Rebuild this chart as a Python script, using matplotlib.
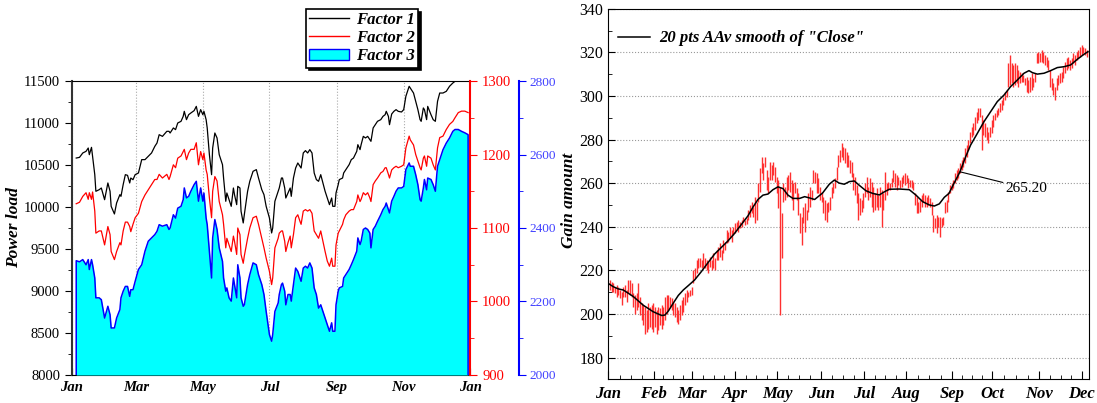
import numpy as np
import matplotlib
matplotlib.use('Agg')
import matplotlib.pyplot as plt
from matplotlib.lines import Line2D
from matplotlib.patches import Patch
from matplotlib.ticker import MultipleLocator

plt.rcParams['font.family'] = ['Liberation Serif', 'DejaVu Serif']

# ---- left panel data (day of year) ----
days = [4, 7, 10, 13, 15, 16, 18, 19, 21, 22, 25, 27, 30, 33, 35, 36, 39, 41, 44, 45,
        47, 49, 51, 53, 54, 56, 58, 61, 64, 67, 70, 73, 76, 78, 80, 83, 87, 89,
        90, 93, 95, 97, 100, 102, 103, 105, 107, 109, 112, 114, 116, 118, 120, 121, 123, 124,
        126, 128, 129, 131, 133, 135, 138, 139, 141, 142, 144, 146, 148, 149, 151, 152, 154, 155,
        157, 158, 161, 163, 166, 169, 171, 174, 176, 178, 181,
        183, 184, 186, 189, 190, 192, 193, 195, 196, 198, 200, 201, 203, 205, 207, 209, 210, 212,
        214, 216, 218, 220, 222, 224, 226, 228, 230, 232, 234, 236, 238, 239, 241, 242, 244, 245,
        248, 249, 251, 254, 256, 258, 261, 262, 264, 265, 267, 269, 271, 273,
        274, 276, 278, 280, 283, 285, 287, 288, 290, 291, 293, 295, 297, 299, 302, 304, 306, 309,
        310, 313, 315, 317, 319, 320, 322, 323, 325, 326, 329, 331, 333, 335, 337, 340, 343, 346,
        349, 351, 354, 357, 360, 363]

factor1 = [10583, 10591, 10643, 10663, 10702, 10623, 10710, 10603, 10385, 10187,
           10206, 10226, 10087, 10286, 10187, 10008, 9917, 10048, 10147, 10127,
           10266, 10385, 10377, 10286, 10345, 10325, 10385, 10405, 10564, 10564,
           10603, 10643, 10722, 10762, 10861, 10841, 10901, 10901,
           10881, 10941, 10921, 11000, 11020, 11079, 11139, 11040, 11099, 11119,
           11147, 11198, 11079, 11159, 11099, 11139, 11040, 10941, 10623, 10385,
           10702, 10881, 10822, 10623, 10504, 10345, 10068, 10167, 10087, 10008,
           10226, 10147, 10028, 10246, 10226, 9949, 9810, 9909, 10187, 10306,
           10425, 10445, 10345, 10206, 10147, 10008, 9869,
           9691, 9750, 10068, 10187, 10226, 10345, 10345, 10226, 10107, 10167,
           10226, 10127, 10345, 10464, 10524, 10484, 10464, 10643, 10671, 10643,
           10683, 10643, 10405, 10326, 10306, 10385, 10286, 10187, 10107, 10028,
           10107, 10008, 10008, 10167, 10266, 10326, 10345, 10405, 10445, 10504,
           10564, 10583, 10663, 10742, 10683, 10742, 10841, 10822, 10841, 10802,
           10782, 10941, 10980, 11020, 11040, 11079, 11099, 11139, 11079, 10980,
           11107, 11139, 11159, 11139, 11131, 11159, 11318, 11437, 11417, 11357,
           11258, 11159, 11040, 11020, 11179, 11159, 11040, 11198, 11099, 11040,
           11020, 11258, 11357, 11357, 11377, 11437, 11476, 11496, 11536, 11575,
           11595, 11615]

factor2 = [1133, 1135, 1143, 1148, 1139, 1148, 1139, 1149, 1123, 1093,
           1096, 1096, 1077, 1102, 1091, 1068, 1057, 1068, 1080, 1077,
           1096, 1108, 1108, 1102, 1095, 1105, 1114, 1120, 1136, 1145,
           1152, 1159, 1166, 1166, 1173, 1168, 1173, 1166,
           1170, 1186, 1182, 1195, 1198, 1204, 1207, 1193, 1202, 1207,
           1207, 1216, 1186, 1204, 1193, 1202, 1179, 1173, 1141, 1114,
           1150, 1170, 1164, 1136, 1118, 1105, 1073, 1086, 1077, 1068,
           1089, 1082, 1064, 1100, 1091, 1064, 1052, 1062, 1086, 1100,
           1114, 1116, 1105, 1086, 1073, 1059, 1041,
           1023, 1032, 1073, 1086, 1093, 1096, 1096, 1082, 1068, 1080,
           1089, 1073, 1091, 1114, 1118, 1109, 1105, 1123, 1125, 1123,
           1125, 1120, 1096, 1091, 1086, 1096, 1082, 1068, 1055, 1048,
           1059, 1048, 1048, 1077, 1093, 1096, 1105, 1111, 1118, 1123,
           1125, 1125, 1136, 1145, 1136, 1139, 1148, 1145, 1148, 1141,
           1136, 1159, 1164, 1168, 1175, 1177, 1182, 1182, 1173, 1168,
           1179, 1182, 1184, 1182, 1184, 1186, 1209, 1225, 1220, 1213,
           1200, 1191, 1182, 1179, 1195, 1198, 1184, 1198, 1195, 1186,
           1179, 1209, 1223, 1225, 1234, 1241, 1245, 1250, 1257, 1259,
           1259, 1257]

factor3 = [2311, 2308, 2314, 2300, 2314, 2287, 2314, 2300, 2264, 2210,
           2210, 2205, 2155, 2187, 2164, 2128, 2128, 2155, 2178, 2210,
           2228, 2241, 2241, 2214, 2232, 2232, 2255, 2287, 2300, 2337,
           2364, 2373, 2382, 2391, 2409, 2405, 2409, 2396,
           2400, 2436, 2427, 2454, 2459, 2477, 2509, 2482, 2486, 2500,
           2518, 2527, 2473, 2509, 2473, 2495, 2427, 2409, 2337, 2264,
           2373, 2423, 2396, 2346, 2309, 2264, 2228, 2237, 2210, 2201,
           2264, 2246, 2210, 2300, 2264, 2210, 2187, 2191, 2246, 2273,
           2305, 2300, 2273, 2246, 2219, 2173, 2110,
           2092, 2110, 2173, 2196, 2219, 2246, 2250, 2228, 2191, 2219,
           2219, 2201, 2246, 2291, 2282, 2264, 2255, 2291, 2296, 2291,
           2305, 2291, 2237, 2219, 2182, 2191, 2173, 2155, 2137, 2119,
           2142, 2119, 2119, 2191, 2228, 2237, 2241, 2264, 2273, 2287,
           2300, 2314, 2337, 2373, 2355, 2364, 2396, 2400, 2396, 2386,
           2346, 2396, 2405, 2418, 2436, 2450, 2459, 2468, 2450, 2441,
           2473, 2486, 2500, 2509, 2509, 2513, 2559, 2577, 2568, 2568,
           2545, 2518, 2477, 2473, 2509, 2532, 2504, 2536, 2532, 2518,
           2500, 2568, 2586, 2613, 2631, 2645, 2663, 2668, 2668, 2663,
           2659, 2654]

month_days = [0, 59, 120, 181, 243, 304, 365]
month_labels = ['Jan', 'Mar', 'May', 'Jul', 'Sep', 'Nov', 'Jan']
minor_days = [31, 90, 151, 212, 273, 334]

# ---- right panel data (trading-day index) ----
high = [215.6, 214.8, 214.0, 212.5, 213.3, 212.5, 211.0, 210.2, 212.5, 213.3,
        211.0, 215.6, 215.6, 214.0, 209.5, 208.7, 209.5, 214.0, 207.8, 204.9,
        204.1, 203.3, 201.8, 204.9, 203.3, 204.1, 204.9, 203.3, 201.8, 203.3,
        202.6, 204.1, 203.3, 207.8, 208.7, 208.7, 207.8, 207.2, 205.5, 204.9,
        203.3, 201.8, 204.1, 206.4, 207.8, 209.5, 211.0,
        210.2, 211.0, 212.5, 220.1, 220.9, 224.7, 225.5, 225.5, 224.7, 227.8,
        225.5, 224.7, 224.0, 226.3, 224.7, 227.8, 225.5, 229.3, 230.9, 232.4,
        229.3, 233.9, 233.2, 238.5, 237.7, 240.0, 238.5, 240.0, 241.6, 242.3,
        243.1, 242.3, 243.1, 244.6, 243.1, 243.9, 247.7, 250.0, 251.5, 249.2,
        253.8, 251.5, 259.9, 266.8, 272.1, 269.1, 272.1, 266.0, 263.0, 269.8,
        268.3, 269.8, 267.6, 263.0, 261.4, 258.4, 246.1, 259.9, 258.4, 263.0,
        263.7, 265.3, 261.4, 259.9, 260.7, 257.6, 255.3, 246.1, 244.6, 249.2,
        250.7, 247.7, 255.3, 258.4, 256.9, 266.0,
        265.3, 264.5, 262.2, 258.4, 256.1, 253.8, 252.3, 250.7, 251.5, 253.8,
        258.4, 259.9, 262.2, 267.6, 272.9, 275.2, 278.3, 276.7, 276.0, 274.4,
        272.9, 270.6, 269.8, 264.5, 263.0, 259.1, 255.3, 253.0, 252.3, 255.3,
        259.9, 263.0, 258.4, 262.2, 260.7, 258.4, 255.3, 257.6, 254.6, 258.4,
        256.9, 255.3, 265.3, 259.9, 260.7, 259.9, 262.2, 266.0, 264.5, 263.7,
        263.0, 261.4, 263.0, 263.7, 264.5, 263.7, 262.2, 261.4, 261.4, 260.7,
        255.3, 253.8, 251.5, 252.3, 254.6, 255.3, 254.6, 253.8, 254.6, 253.0,
        251.5, 245.4, 243.9, 245.4, 244.6, 244.6, 243.9,
        244.6, 251.5, 252.3, 256.1, 259.1, 259.9, 261.4, 264.5, 266.0, 266.8,
        269.1, 270.6, 272.1, 276.0, 277.5, 279.8, 283.6, 285.9, 287.4, 290.5,
        292.8, 294.3, 294.3, 291.3, 289.0, 287.4, 285.9, 283.6, 285.9, 289.0,
        291.3, 292.0, 293.5, 294.3, 296.6, 298.1, 299.7, 302.0, 302.7, 315.0,
        318.8, 315.0, 314.2, 315.0, 314.2, 311.9, 311.1, 310.4, 309.6, 308.1,
        308.8, 307.3, 308.8, 310.4, 308.1, 310.4, 319.5, 320.3, 319.5, 321.1,
        320.3, 318.8, 318.0, 316.5, 311.9, 308.1, 305.8, 304.3, 308.1, 309.6,
        310.4, 311.1, 313.4, 315.7, 317.2, 318.0, 316.5, 317.2, 319.5, 318.8,
        320.3, 321.1, 322.6, 323.4, 322.6, 321.8, 321.1]

low = [211.0, 210.2, 210.2, 209.5, 207.8, 208.7, 207.2, 204.1, 207.8, 207.8,
       205.5, 209.5, 208.7, 207.8, 203.3, 200.2, 201.8, 203.3, 199.5, 197.2,
       194.9, 191.0, 191.7, 193.3, 194.1, 193.3, 191.7, 194.1, 191.0, 192.5,
       194.9, 193.3, 194.9, 197.2, 200.2, 201.8, 203.3, 201.8, 199.5, 198.7,
       196.4, 195.6, 197.2, 199.5, 201.0, 204.1, 205.5,
       207.8, 208.1, 208.7, 214.0, 216.3, 218.6, 220.9, 221.7, 220.9, 221.7,
       220.9, 220.1, 218.6, 221.7, 220.1, 220.9, 220.1, 224.7, 224.7, 226.3,
       224.7, 227.8, 229.3, 232.4, 233.2, 234.7, 233.2, 236.2, 237.0, 238.5,
       237.7, 239.3, 240.0, 242.3, 240.8, 241.2, 243.1, 244.6, 246.1, 244.6,
       241.6, 243.1, 251.5, 256.1, 264.5, 261.4, 267.6, 256.9, 255.3, 261.4,
       261.4, 263.7, 260.7, 255.3, 248.4, 199.5, 225.5, 251.5, 252.3, 253.8,
       256.9, 256.1, 252.3, 247.7, 255.3, 252.3, 245.4, 237.0, 231.6, 241.6,
       237.7, 243.1, 246.9, 249.2, 252.3, 259.9,
       259.9, 255.3, 255.3, 252.3, 251.5, 246.1, 243.1, 242.3, 246.9, 247.7,
       253.0, 255.3, 257.6, 261.4, 267.6, 269.8, 272.1, 270.6, 269.1, 267.6,
       267.6, 264.5, 263.0, 256.9, 254.6, 250.7, 243.1, 245.4, 246.9, 248.4,
       253.8, 255.3, 252.3, 253.8, 249.2, 246.9, 247.7, 249.2, 247.7, 249.2,
       240.0, 247.7, 252.3, 254.6, 256.9, 256.9, 258.4, 260.7, 258.4, 256.9,
       259.1, 257.6, 258.4, 259.9, 259.1, 259.9, 257.6, 258.4, 257.6, 256.9,
       250.0, 246.1, 246.1, 246.9, 249.2, 251.5, 249.2, 249.2, 250.0, 249.2,
       245.4, 237.7, 239.3, 237.0, 240.0, 235.4, 240.0,
       240.8, 246.1, 246.9, 251.5, 255.3, 256.9, 257.6, 259.9, 261.4, 262.2,
       264.5, 266.0, 267.6, 269.1, 272.1, 275.2, 278.3, 281.3, 282.1, 284.4,
       287.4, 289.0, 290.5, 275.2, 282.1, 281.3, 279.8, 278.3, 281.3, 282.8,
       285.9, 289.0, 290.5, 291.3, 292.8, 293.5, 295.8, 298.1, 299.7, 304.3,
       305.0, 305.8, 304.3, 305.0, 305.8, 304.3, 305.8, 306.5, 306.5, 305.0,
       302.0, 301.2, 302.0, 302.7, 304.3, 306.5, 315.0, 315.0, 315.7, 315.7,
       315.0, 314.2, 313.4, 311.9, 304.3, 302.7, 300.4, 298.1, 302.7, 305.0,
       305.8, 306.5, 308.1, 310.4, 311.9, 312.7, 311.9, 312.7, 315.0, 314.2,
       316.5, 317.2, 318.0, 318.8, 319.5, 318.8, 318.0]

smooth_x = [-1, 2, 5, 8, 11, 14, 17, 20, 23, 26, 29, 31, 33, 35, 38, 41, 44, 47,
            50.8, 54.8, 58.8, 62.8, 66.8, 70.8, 74.8, 78.8, 82.8, 85.8, 88.8, 91.8,
            94.8, 97.8, 100.8, 103.8, 106.8, 109.8, 113.8, 116.8, 119.8, 122.8,
            127.6, 131.6, 134.6, 137.6, 140.6, 143.6, 146.6, 149.6, 153.6, 157.6,
            161.6, 164.6, 167.6, 173.6, 179.6, 183.6, 187.6, 191.6, 194.6, 197.6, 200.6,
            203.4, 206.4, 210, 213.4, 216.4, 220.4, 224.4, 228.4, 232.4, 236.4,
            240.4, 244.4, 248.4, 251.4, 253.4, 256.4, 260.4, 264.4, 268.4, 272.4,
            276.4, 280.4, 284.4, 286.8]
smooth_y = [214.0, 212.5, 211.5, 211.0, 209.5, 208.0, 206.0, 204.0, 202.5, 201.0,
            200.0, 199.3, 199.5, 201.3, 205.0, 208.5, 211.0, 213.0,
            215.6, 219.4, 223.5, 227.5, 230.5, 233.5, 237.0, 241.0, 245.0, 249.0,
            252.5, 254.5, 255.0, 257.0, 258.3, 257.5, 254.5, 253.0, 253.0, 253.8,
            253.2, 252.5,
            255.5, 259.5, 261.4, 260.0, 259.5, 260.7, 261.0, 259.0, 256.5, 255.3,
            254.6, 256.0, 257.2, 257.3, 257.0, 254.5, 251.5, 250.0, 249.5, 250.5, 253.5,
            255.3, 259.9, 265.2, 272.1, 277.5, 282.8, 288.2, 292.8, 297.4, 300.4,
            304.3, 307.3, 310.4, 311.6, 310.7, 310.0, 310.4, 311.6, 313.0, 313.4,
            314.2, 316.8, 319.1, 320.3]

month_pos = [-1, 26.2, 49.4, 75.0, 100.5, 126.7, 152.6, 177.8, 205.4, 229.3, 257.6, 283.1]
month_names = ['Jan', 'Feb', 'Mar', 'Apr', 'May', 'Jun', 'Jul', 'Aug', 'Sep', 'Oct', 'Nov', 'Dec']

bi = dict(fontweight='bold', fontstyle='italic')

fig = plt.figure(figsize=(10.97, 4.03), dpi=100)

# ================= left panel =================
ax = fig.add_axes([0.0655, 0.0695, 0.3632, 0.7295])
ax2 = ax.twinx()
ax3 = ax.twinx()

ax.plot(days, factor1, color='black', lw=0.9)
ax2.plot(days, factor2, color='red', lw=0.9)
ax3.fill_between(days, factor3, 2000, color='#00ffff', lw=0)
ax3.plot([days[0]] + days + [days[-1]], [2000] + factor3 + [2000], color='blue', lw=1.1)

ax.set_xlim(0, 365)
ax.set_ylim(8000, 11500)
ax2.set_ylim(900, 1300)
ax3.set_ylim(2000, 2800)

ax.set_xticks(month_days)
ax.set_xticklabels(month_labels, fontsize=10.5, **bi)
ax.set_xticks(minor_days, minor=True)
ax.tick_params(axis='x', which='major', direction='in', length=5, pad=4)
ax.tick_params(axis='x', which='minor', direction='in', length=3)
ax.grid(axis='x', which='major', ls=':', color='#aaaaaa', lw=0.8)

ax.yaxis.set_major_locator(MultipleLocator(500))
ax.yaxis.set_minor_locator(MultipleLocator(250))
ax.tick_params(axis='y', which='major', direction='out', length=5, labelsize=10.5)
ax.tick_params(axis='y', which='minor', direction='out', length=3)
ax.set_ylabel('Power load', fontsize=12.5, **bi)
ax.yaxis.set_label_coords(-0.125, 0.5)
ax.spines['left'].set_linewidth(1.5)
ax.spines['left'].set_color('#333333')
ax.spines['right'].set_visible(False)

for a in (ax2, ax3):
    for s in ('left', 'top', 'bottom'):
        a.spines[s].set_visible(False)

ax2.spines['right'].set_color('red')
ax2.spines['right'].set_linewidth(1.5)
ax2.yaxis.set_major_locator(MultipleLocator(100))
ax2.yaxis.set_minor_locator(MultipleLocator(50))
ax2.tick_params(axis='y', which='both', colors='red', direction='out', labelsize=10.5)
ax2.tick_params(axis='y', which='major', length=5)
ax2.tick_params(axis='y', which='minor', length=3)

# blue axis sits about 49 px to the right of the red one
ax3.spines['right'].set_position(('outward', 35.3))
ax3.spines['right'].set_color('blue')
ax3.spines['right'].set_linewidth(1.5)
ax3.yaxis.set_major_locator(MultipleLocator(200))
ax3.yaxis.set_minor_locator(MultipleLocator(100))
ax3.tick_params(axis='y', which='both', colors='blue', direction='out', labelsize=9.5, pad=2)
ax3.tick_params(axis='y', which='major', length=5)
ax3.tick_params(axis='y', which='minor', length=3)
for t in ax3.get_yticklabels():
    t.set_color('#4040ff')

handles = [Line2D([], [], color='black', lw=1),
           Line2D([], [], color='red', lw=1),
           Patch(facecolor='#00ffff', edgecolor='blue', lw=1)]
leg = fig.legend(handles, ['Factor 1', 'Factor 2', 'Factor 3'], loc='upper left',
                 bbox_to_anchor=(0.279, 0.978), frameon=True, fancybox=False,
                 shadow={'color': 'black', 'alpha': 1}, edgecolor='black', framealpha=1,
                 prop=dict(family='Liberation Serif', weight='bold', style='italic', size=12),
                 borderpad=0.2, labelspacing=0.12, handlelength=2.4, handletextpad=0.4,
                 borderaxespad=0)
leg.get_frame().set_linewidth(1.2)

# ================= right panel =================
bx = fig.add_axes([0.5545, 0.0586, 0.4382, 0.9198])
idx = np.arange(len(high))
bx.vlines(idx, low, high, color='#ff3030', lw=1.0)
bx.plot(smooth_x, smooth_y, color='black', lw=1.1)

bx.set_xlim(-1, 287.4)
bx.set_ylim(170, 340)
bx.yaxis.set_major_locator(MultipleLocator(20))
bx.yaxis.set_minor_locator(MultipleLocator(10))
bx.grid(axis='y', which='major', ls=':', color='#999999', lw=0.8)
bx.tick_params(axis='y', which='major', direction='in', length=5, labelsize=11.5)
bx.tick_params(axis='y', which='minor', direction='in', length=3)

bx.set_xticks(month_pos)
bx.set_xticklabels(month_names, fontsize=12, **bi)
minor_pos = []
for a, b in zip(month_pos[:-1], month_pos[1:]):
    minor_pos += list(np.linspace(a, b, 5)[1:-1])
bx.set_xticks(minor_pos, minor=True)
bx.tick_params(axis='x', which='major', direction='in', length=6, pad=5)
bx.tick_params(axis='x', which='minor', direction='in', length=3)

bx.set_ylabel('Gain amount', fontsize=12.5, **bi)
bx.yaxis.set_label_coords(-0.066, 0.484)

bx.annotate('265.20', xy=(210, 265.2), xytext=(237.4, 257.6), fontsize=11,
            va='center', ha='left',
            arrowprops=dict(arrowstyle='-', color='black', lw=0.8, shrinkA=0, shrinkB=0))

bx.legend([Line2D([], [], color='black', lw=1.1)], ['20 pts AAv smooth of "Close"'],
          loc='center left', bbox_to_anchor=(0.02, 0.92), frameon=False,
          prop=dict(family='Liberation Serif', weight='bold', style='italic', size=12),
          handlelength=1.9, handletextpad=0.55, borderpad=0, borderaxespad=0)

fig.savefig('out.png', dpi=100)
